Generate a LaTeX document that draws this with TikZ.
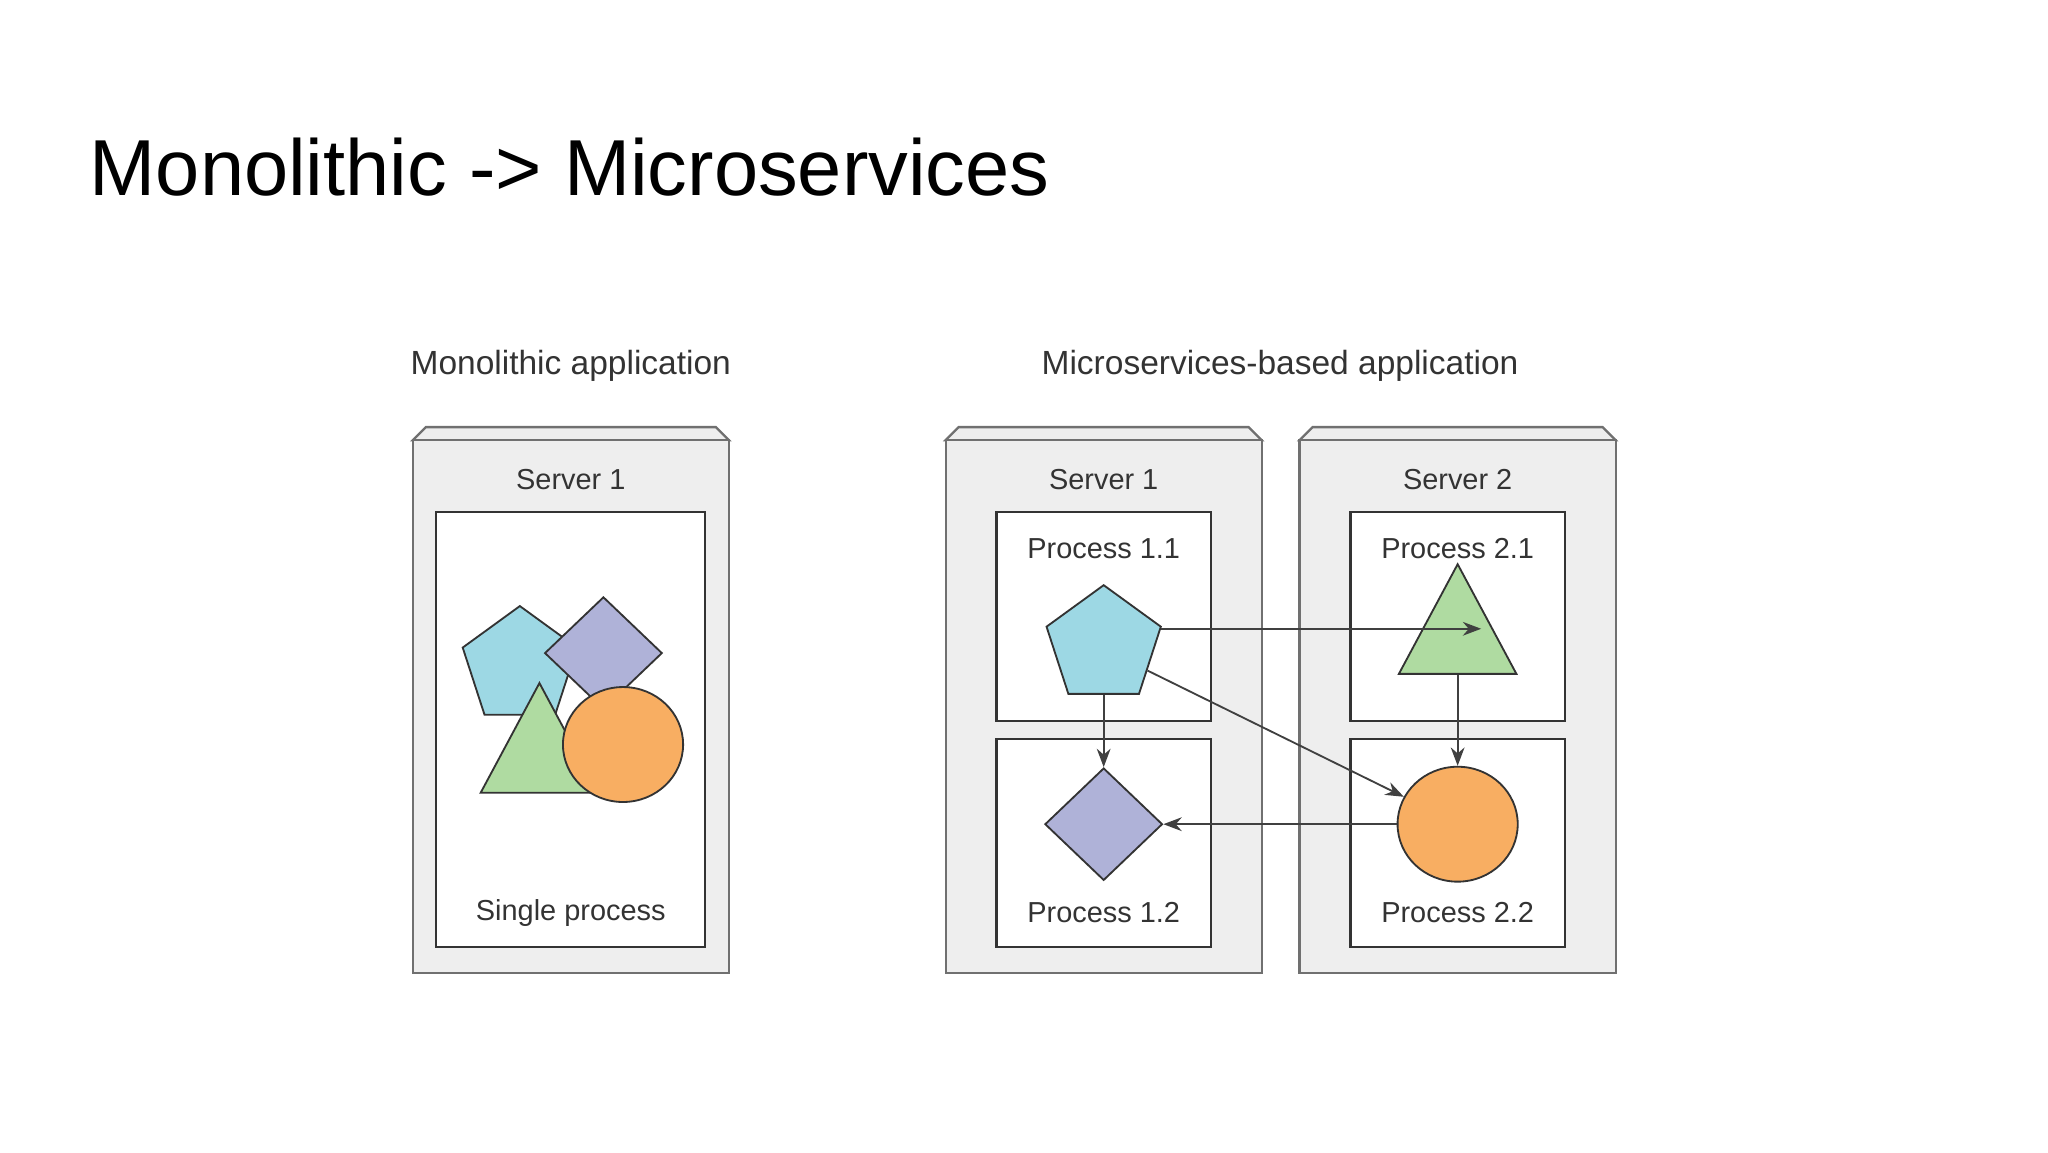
\documentclass[tikz,border=0pt]{standalone}
\usepackage{fontspec}
\setmainfont{Liberation Sans}
\usetikzlibrary{shapes.geometric,arrows.meta,calc}
\definecolor{srvfill}{HTML}{EEEEEE}
\definecolor{edge}{HTML}{707070}
\definecolor{pent}{HTML}{9DD8E4}
\definecolor{diam}{HTML}{AFB2D8}
\definecolor{tri}{HTML}{AFDBA1}
\definecolor{circ}{HTML}{F8AE62}
\definecolor{txt}{HTML}{333333}
\tikzset{
  server/.style={draw=edge, fill=srvfill, line width=0.5pt},
  proc/.style={draw=txt, fill=white, line width=0.5pt},
  lbl/.style={text=txt, font=\fontsize{6.3}{7}\selectfont, inner sep=0pt},
  head/.style={lbl, font=\fontsize{7.3}{8}\selectfont},
  shp/.style={draw=black!80, line width=0.4pt, inner sep=0pt},
  pentshape/.style={shp, regular polygon, regular polygon sides=5, minimum size=0.92cm, fill=pent},
  trishape/.style={shp, isosceles triangle, shape border rotate=90, isosceles triangle stretches, minimum width=0.9cm, minimum height=0.84cm, fill=tri},
  diamshape/.style={shp, diamond, minimum width=0.9cm, minimum height=0.86cm, fill=diam},
  circshape/.style={shp, ellipse, minimum width=0.92cm, minimum height=0.88cm, fill=circ},
  link/.style={-{Stealth[length=4pt,width=3pt]}, draw=black!75, line width=0.4pt}
}
\newcommand{\srvbox}[2]{% left x, right x
  \draw[server] (#1,-3.37) -- (#1+0.1,-3.27) -- (#2-0.1,-3.27) -- (#2,-3.37) -- cycle;
  \draw[server] (#1,-3.37) rectangle (#2,-7.45);
}
\begin{document}
\begin{tikzpicture}
\useasboundingbox (0,0) rectangle (15.68,-8.82);

% title
\node[anchor=base west, inner sep=0pt, font=\fontsize{17.3}{21}\selectfont] (title) at (0.68,-1.5) {Monolithic -> Microservices};

% monolithic side
\node[head] (mlab) at (4.37,-2.8) {Monolithic application};
\srvbox{3.16}{5.58}
\node[lbl] (ms1) at (4.37,-3.67) {Server 1};
\draw[proc] (3.34,-3.92) rectangle (5.40,-7.25);
\node[lbl] (single) at (4.37,-6.99) {Single process};
\node[pentshape] (mp) at (3.98,-5.10) {};
\node[diamshape] (md) at (4.62,-5.00) {};
\node[trishape] (mt) at (4.13,-5.80) {};
\node[circshape] (mc) at (4.77,-5.70) {};

% microservices side
\node[head] (rlab) at (9.80,-2.8) {Microservices-based application};
\srvbox{7.24}{9.66}
\srvbox{9.95}{12.37}
\node[lbl] (s1) at (8.45,-3.67) {Server 1};
\node[lbl] (s2) at (11.16,-3.67) {Server 2};
\draw[proc] (7.63,-3.92) rectangle (9.27,-5.52);
\draw[proc] (7.63,-5.66) rectangle (9.27,-7.25);
\draw[proc] (10.34,-3.92) rectangle (11.98,-5.52);
\draw[proc] (10.34,-5.66) rectangle (11.98,-7.25);
\node[lbl] (p11) at (8.45,-4.20) {Process 1.1};
\node[lbl] (p12) at (8.45,-6.99) {Process 1.2};
\node[lbl] (p21) at (11.16,-4.20) {Process 2.1};
\node[lbl] (p22) at (11.16,-6.99) {Process 2.2};

\node[pentshape] (a) at (8.45,-4.94) {};
\node[trishape] (b) at (11.16,-4.89) {};
\node[diamshape] (c) at (8.45,-6.31) {};
\node[circshape] (d) at (11.16,-6.31) {};

\coordinate (bedge) at ($(b.apex)!0.39!(b.right corner)$);
\draw[link] (a.16) -- (a.16 -| bedge);
\draw[link] (a.-30) -- (d.153);
\draw[link] (a.south) -- (c.north);
\draw[link] (b.south) -- (d.north);
\draw[link] (d.west) -- (c.east);
\end{tikzpicture}
\end{document}
